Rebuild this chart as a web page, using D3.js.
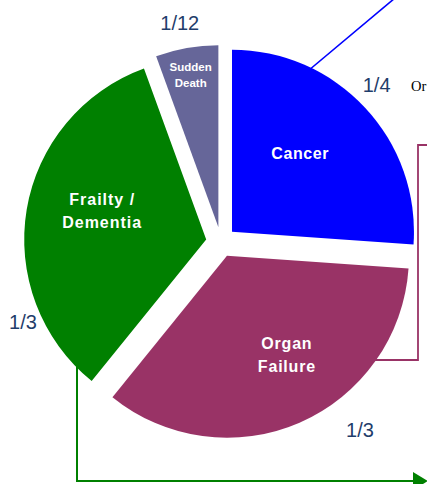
<!DOCTYPE html>
<html>
<head>
<meta charset="utf-8">
<script src="https://cdn.jsdelivr.net/npm/d3@7"></script>
<style>
  html, body { margin: 0; padding: 0; background: #fff; }
  svg { display: block; }
</style>
</head>
<body>
<div id="chart"></div>
<script>
// slice data (shares as drawn, clockwise from 12 o'clock)
const categories = ["Cancer", "Organ Failure", "Frailty / Dementia", "Sudden Death"];
const shares = [94, 125, 121, 20];
const fractionLabels = ["1/4", "1/3", "1/3", "1/12"];
const sliceLines = [["Cancer"], ["Organ", "Failure"], ["Frailty /", "Dementia"], ["Sudden", "Death"]];

const colors = ["#0000ff", "#993366", "#008000", "#666699"];

// label placement relative to each exploded slice (angle tweak in deg, radius)
const inner = [
  { da: -6, r: 104, size: 16, ls: 0.6 },
  { da: -7.6, r: 116, size: 16, ls: 0.8 },
  { da: 6.1, r: 108, size: 16, ls: 1 },
  { da: -0.3, r: 155, size: 11.5, ls: 0 }
];
const outer = [
  { da: -2.4, r: 206 },
  { da: -13.9, r: 219 },
  { da: -33.8, r: 201 },
  { da: -0.7, r: 208 }
];

const width = 427;
const height = 484;
const cx = 221, cy = 242;
const radius = 182;
const explode = 15;

const svg = d3.select("#chart").append("svg")
  .attr("width", width)
  .attr("height", height)
  .attr("viewBox", [0, 0, width, height])
  .style("font-family", "'Liberation Sans', Arial, sans-serif");

// annotation lines behind the pie
const notes = svg.append("g").attr("fill", "none");
notes.append("path")
  .attr("d", "M296,81 L395,-2")
  .attr("stroke", "#0000ff")
  .attr("stroke-width", 1.6);
notes.append("path")
  .attr("d", "M428,145 H418 V360 H350")
  .attr("stroke", "#993366")
  .attr("stroke-width", 1.8);
notes.append("path")
  .attr("d", "M77,350 V481 H416")
  .attr("stroke", "#008000")
  .attr("stroke-width", 2);
notes.append("path")
  .attr("d", "M413,472 L428,481 L413,490 Z")
  .attr("fill", "#008000");

svg.append("text")
  .attr("x", 411)
  .attr("y", 91)
  .attr("font-family", "'Liberation Serif', 'Times New Roman', serif")
  .attr("font-size", 14.5)
  .attr("fill", "#000")
  .text("Or");

const data = categories.map((c, i) => ({ name: c, value: shares[i], i }));

const pie = d3.pie()
  .sort(null)
  .value(d => d.value);

const arc = d3.arc()
  .innerRadius(0)
  .outerRadius(radius);

const arcs = pie(data);

const rad = a => a * Math.PI / 180;
const polar = (a, r) => [r * Math.sin(a), -r * Math.cos(a)];

const slices = svg.append("g")
  .attr("transform", `translate(${cx},${cy})`)
  .selectAll("g")
  .data(arcs)
  .join("g")
  .attr("transform", d => {
    const mid = (d.startAngle + d.endAngle) / 2;
    const [x, y] = polar(mid, explode);
    return `translate(${x},${y})`;
  });

slices.append("path")
  .attr("d", arc)
  .attr("fill", d => colors[d.data.i]);

// white labels inside slices, fractions outside
slices.each(function(d) {
  const k = d.data.i;
  const cfg = inner[k];
  const mid = (d.startAngle + d.endAngle) / 2 + rad(cfg.da);
  const [x, y] = polar(mid, cfg.r);
  const lines = sliceLines[k];
  const lh = cfg.size * 1.45;
  const t = d3.select(this).append("text")
    .attr("text-anchor", "middle")
    .attr("fill", "#fff")
    .attr("font-weight", "bold")
    .attr("font-size", cfg.size)
    .attr("letter-spacing", cfg.ls);
  lines.forEach((ln, j) => {
    t.append("tspan")
      .attr("x", x)
      .attr("y", y + (j - (lines.length - 1) / 2) * lh + cfg.size * 0.36)
      .text(ln);
  });

  const oc = outer[k];
  const om = (d.startAngle + d.endAngle) / 2 + rad(oc.da);
  const [ox, oy] = polar(om, oc.r);
  d3.select(this).append("text")
    .attr("x", ox)
    .attr("y", oy + 7)
    .attr("text-anchor", "middle")
    .attr("fill", "#1f3d6b")
    .attr("font-size", 20)
    .text(fractionLabels[k]);
});
</script>
</body>
</html>
